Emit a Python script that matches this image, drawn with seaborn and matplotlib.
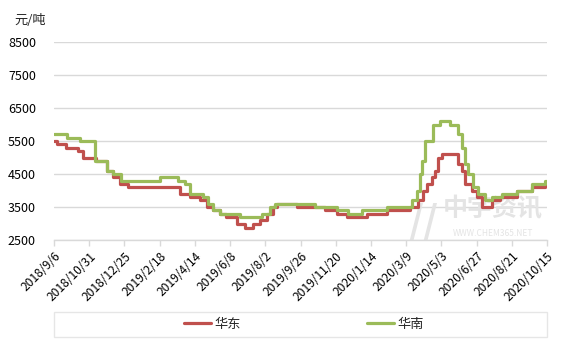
import pandas as pd
import numpy as np
import matplotlib
matplotlib.use("Agg")
import matplotlib.pyplot as plt
from matplotlib.lines import Line2D
from matplotlib.patches import Rectangle
import seaborn as sns

# ---------------- data ----------------
start_date = "2018-09-06"
# days since start at which the price changes, and the new price (元/吨)
east_days = [0, 5, 19, 37, 45, 66, 83, 92, 103, 116, 197, 212, 228, 239, 248, 259, 269,
             286, 298, 311, 322, 333, 342, 348, 380, 423, 442, 458, 489, 520, 556, 568,
             576, 583, 590, 595, 600, 606, 631, 637, 642, 653, 661, 668, 684, 697, 723,
             747, 767, 770]
east_vals = [5500, 5400, 5300, 5200, 5000, 4900, 4600, 4400, 4200, 4100, 3900, 3800, 3700,
             3500, 3400, 3300, 3200, 3000, 2850, 3000, 3100, 3300, 3500, 3600, 3500, 3400,
             3300, 3200, 3300, 3400, 3500, 3700, 4000, 4200, 4400, 4600, 5000, 5100, 4800,
             4600, 4200, 4000, 3800, 3500, 3700, 3800, 4000, 4100, 4200, 4200]
south_days = [0, 20, 41, 64, 83, 92, 105, 166, 194, 205, 212, 233, 241, 248, 259, 290, 325,
              337, 345, 408, 442, 459, 481, 520, 559, 567, 572, 575, 579, 592, 603, 618,
              631, 637, 642, 647, 654, 662, 673, 684, 700, 723, 747, 767, 770]
south_vals = [5700, 5600, 5500, 4900, 4600, 4500, 4300, 4400, 4300, 4200, 3900, 3800, 3600,
              3400, 3300, 3200, 3300, 3500, 3600, 3500, 3400, 3300, 3400, 3500, 3700, 4000,
              4500, 4900, 5500, 6000, 6100, 6000, 5700, 5300, 4800, 4500, 4100, 3900, 3700,
              3800, 3900, 4000, 4200, 4300, 4300]
series_names = ["华东", "华南"]
series_colors = ["#C0504D", "#9BBB59"]
tick_step_days = 55
n_ticks = 15
y_ticks = [2500, 3500, 4500, 5500, 6500, 7500, 8500]
unit_label = "元/吨"

# ---------------- frame ----------------
t0 = pd.Timestamp(start_date)
df = pd.concat([
    pd.DataFrame({"date": t0 + pd.to_timedelta(east_days, unit="D"),
                  "price": east_vals, "region": series_names[0]}),
    pd.DataFrame({"date": t0 + pd.to_timedelta(south_days, unit="D"),
                  "price": south_vals, "region": series_names[1]}),
], ignore_index=True)

sns.set_theme(style="white")
plt.rcParams["font.family"] = ["Noto Sans CJK SC", "DejaVu Sans"]

W, H = 567, 340
fig = plt.figure(figsize=(W / 100, H / 100), dpi=100)
ax = fig.add_axes([54 / W, 1 - 240 / H, 493 / W, 198 / H])

sns.lineplot(data=df, x="date", y="price", hue="region",
             palette=dict(zip(series_names, series_colors)),
             hue_order=series_names, drawstyle="steps-post",
             linewidth=2.3, legend=False, ax=ax, zorder=3)

# watermark
ax.text(0.89, 0.155, "中宇资讯", transform=ax.transAxes, fontsize=18,
        fontweight="bold", color="#e4e4e4", ha="center", va="center", zorder=1)
ax.text(0.89, 0.035, "WWW.CHEM365.NET", transform=ax.transAxes, fontsize=6,
        color="#e4e4e4", ha="center", va="center", zorder=1)
ax.text(0.75, 0.09, "//", transform=ax.transAxes, fontsize=28, fontweight="bold",
        color="#e4e4e4", ha="center", va="center", zorder=1, style="italic")

ticks = [t0 + pd.Timedelta(days=tick_step_days * i) for i in range(n_ticks)]
ax.set_xlim(ticks[0], ticks[-1])
ax.set_ylim(y_ticks[0], y_ticks[-1])
ax.set_yticks(y_ticks)
ax.set_xticks(ticks)
ax.set_xticklabels([f"{d.year}/{d.month}/{d.day}" for d in ticks], rotation=45,
                   ha="right", rotation_mode="anchor")
ax.set_xlabel("")
ax.set_ylabel("")

ax.grid(axis="y", color="#d9d9d9", linewidth=1.0, zorder=0)
ax.grid(axis="x", visible=False)
for s in ["left", "right", "top"]:
    ax.spines[s].set_visible(False)
ax.spines["bottom"].set_color("#d9d9d9")
ax.spines["bottom"].set_linewidth(1.0)
ax.tick_params(axis="x", bottom=True, length=4, width=1, color="#d9d9d9",
               labelsize=8.7, pad=3, labelcolor="#000000")
ax.tick_params(axis="y", left=False, labelsize=9, pad=7, labelcolor="#000000")

fig.text(14 / W, 1 - 20 / H, unit_label, fontsize=9.5, ha="left", va="center")

# legend frame and entries
fig.patches.append(Rectangle((54 / W, 1 - 337 / H), 493 / W, 25 / H,
                             transform=fig.transFigure, fill=False,
                             edgecolor="#e6e6e6", linewidth=1.0))
handles = [Line2D([0], [0], color=c, linewidth=2.3) for c in series_colors]
fig.legend(handles, series_names, loc="center", bbox_to_anchor=(304 / W, 1 - 324 / H),
           ncol=2, frameon=False, fontsize=9.5, handlelength=2.05,
           handletextpad=0.25, columnspacing=9.6)

fig.savefig("out.png", dpi=100)
